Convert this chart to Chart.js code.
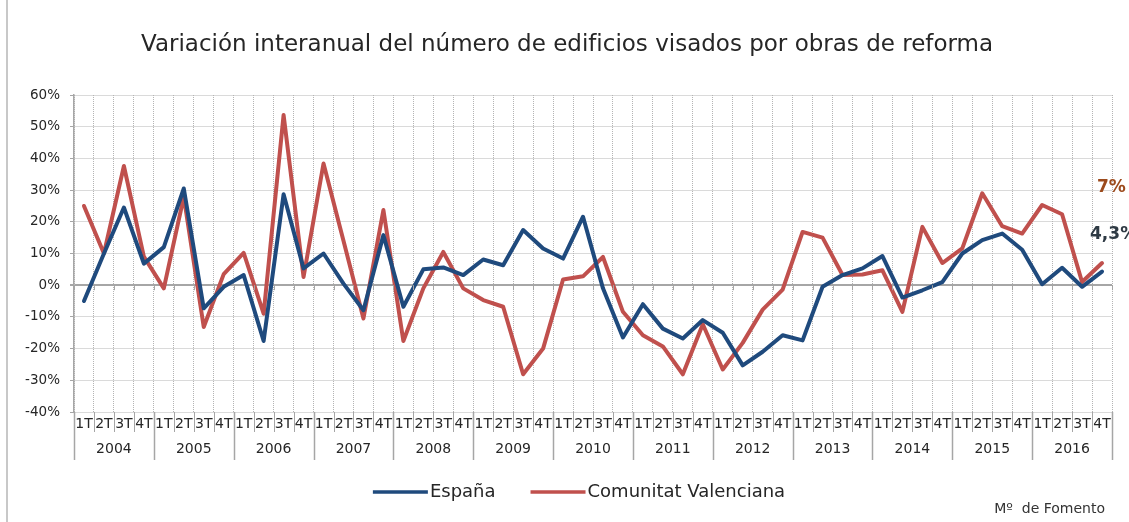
<!DOCTYPE html>
<html lang="es">
<head>
<meta charset="UTF-8">
<title>Variación interanual del número de edificios visados por obras de reforma</title>
<script src="https://cdn.jsdelivr.net/npm/chart.js@4.4.0/dist/chart.umd.min.js"></script>
<style>
  html, body { margin: 0; padding: 0; background: #fff; }
</style>
</head>
<body>
<canvas id="grafico" width="1129" height="522"></canvas>
<script>
// Datos trimestrales (variación interanual, %)
const anios = ['2004', '2005', '2006', '2007', '2008', '2009', '2010', '2011', '2012', '2013', '2014', '2015', '2016'];
const trimestres = ['1T', '2T', '3T', '4T'];

const espana = [
  -5, 10, 24.5, 6.8,
  12, 30.5, -7.3, -0.5,
  3.2, -17.6, 28.7, 5.3,
  10, 0.5, -7.9, 15.8,
  -6.8, 5, 5.6, 3.2,
  8.1, 6.3, 17.4, 11.6,
  8.4, 21.6, -1, -16.5,
  -6, -13.7, -16.8, -11,
  -15, -25.3, -21, -15.8,
  -17.4, -0.5, 3.2, 5.3,
  9.2, -3.9, -1.6, 1,
  10, 14.2, 16.3, 11.2,
  0.3, 5.5, -0.5, 4.3
];

const valenciana = [
  25, 10, 37.6, 9,
  -1, 27.9, -13.2, 3.5,
  10.2, -9, 53.7, 2.6,
  38.4, 14, -10.5, 23.7,
  -17.6, -1, 10.5, -1,
  -4.7, -6.8, -28.1, -20,
  1.8, 2.8, 8.9, -8.4,
  -15.8, -19.3, -28.1, -12.3,
  -26.6, -18.2, -7.7, -1.4,
  16.8, 15, 3.2, 3.4,
  4.7, -8.4, 18.4, 7,
  11.6, 29, 18.6, 16.3,
  25.3, 22.4, 1, 7
];

const etiquetas = [];
anios.forEach(a => trimestres.forEach(t => etiquetas.push(t)));

const FUENTE = "'DejaVu Sans', sans-serif";
Chart.defaults.font.family = FUENTE;
Chart.defaults.color = '#333';

const gris = '#A6A6A6';
const grisPunteado = '#B4B4B4';

// ejes de categorías a dos niveles, leyenda, fuente y etiquetas finales
const extras = {
  id: 'extras',
  afterDraw(chart) {
    const ctx = chart.ctx;
    const xs = chart.scales.x;
    const ys = chart.scales.y;
    const area = chart.chartArea;
    const medio = (xs.getPixelForValue(1) - xs.getPixelForValue(0)) / 2;
    const y0 = ys.getPixelForValue(0);

    ctx.save();
    // borde izquierdo del gráfico
    ctx.strokeStyle = '#C8C8C8';
    ctx.lineWidth = 2;
    ctx.beginPath();
    ctx.moveTo(7, 0);
    ctx.lineTo(7, chart.height);
    ctx.stroke();

    ctx.strokeStyle = gris;
    for (let i = 0; i <= etiquetas.length; i++) {
      const x = Math.round(xs.getPixelForValue(i) - medio) + 0.5;
      const largo = i % 4 === 0 ? 48 : 20;
      ctx.lineWidth = i % 4 === 0 ? 1.5 : 1;
      ctx.beginPath();
      ctx.moveTo(x, area.bottom);
      ctx.lineTo(x, area.bottom + largo);
      ctx.stroke();
      // marcas sobre la línea del cero
      ctx.lineWidth = 1;
      ctx.beginPath();
      ctx.moveTo(x, y0);
      ctx.lineTo(x, y0 + 5);
      ctx.stroke();
    }

    // años
    ctx.fillStyle = '#262626';
    ctx.font = '14px ' + FUENTE;
    ctx.textAlign = 'center';
    ctx.textBaseline = 'middle';
    anios.forEach((a, k) => {
      const xc = (xs.getPixelForValue(k * 4) + xs.getPixelForValue(k * 4 + 3)) / 2;
      ctx.fillText(a, xc, area.bottom + 37);
    });

    // leyenda
    ctx.font = '18px ' + FUENTE;
    ctx.textAlign = 'left';
    const linea = 55, hueco = 2, sep = 35;
    const items = chart.data.datasets.map(d => ({ d, w: ctx.measureText(d.label).width }));
    const total = items.reduce((s, it) => s + linea + hueco + it.w, 0) + sep * (items.length - 1);
    let x = 579 - total / 2;
    const yl = 492;
    items.forEach(it => {
      ctx.strokeStyle = it.d.borderColor;
      ctx.lineWidth = 3.5;
      ctx.beginPath();
      ctx.moveTo(x, yl);
      ctx.lineTo(x + linea, yl);
      ctx.stroke();
      ctx.fillStyle = '#262626';
      ctx.fillText(it.d.label, x + linea + hueco, yl);
      x += linea + hueco + it.w + sep;
    });

    // fuente
    ctx.font = '14px ' + FUENTE;
    ctx.textAlign = 'right';
    ctx.fillStyle = '#333';
    ctx.fillText('Mº  de Fomento', 1105, 509);

    // etiquetas del último trimestre
    ctx.font = 'bold 17px ' + FUENTE;
    ctx.textAlign = 'left';
    const fmt = v => v.toLocaleString('es-ES') + '%';
    const ultimo = etiquetas.length - 1;
    const pr = chart.getDatasetMeta(1).data[ultimo];
    ctx.fillStyle = '#9C4A1C';
    ctx.fillText(fmt(valenciana[ultimo]), pr.x - 5, pr.y - 75);
    const pb = chart.getDatasetMeta(0).data[ultimo];
    ctx.fillStyle = '#2E3A44';
    ctx.fillText(fmt(espana[ultimo]), pb.x - 12, pb.y - 37);
    ctx.restore();
  }
};

new Chart(document.getElementById('grafico'), {
  type: 'line',
  data: {
    labels: etiquetas,
    datasets: [
      {
        label: 'España',
        data: espana,
        borderColor: '#1F4A7D',
        backgroundColor: '#1F4A7D',
        borderWidth: 4,
        borderJoinStyle: 'round',
        borderCapStyle: 'round',
        pointRadius: 0,
        tension: 0
      },
      {
        label: 'Comunitat Valenciana',
        data: valenciana,
        borderColor: '#C0504D',
        backgroundColor: '#C0504D',
        borderWidth: 4,
        borderJoinStyle: 'round',
        borderCapStyle: 'round',
        pointRadius: 0,
        tension: 0
      }
    ]
  },
  options: {
    responsive: false,
    animation: false,
    devicePixelRatio: 1,
    layout: { padding: { top: 20, right: 17, bottom: 60, left: 22 } },
    plugins: {
      legend: { display: false },
      tooltip: { enabled: false },
      title: {
        display: true,
        text: 'Variación interanual del número de edificios visados por obras de reforma',
        color: '#262626',
        font: { size: 23, weight: 'normal' },
        padding: { top: 11, bottom: 36.4 }
      }
    },
    scales: {
      x: {
        offset: true,
        grid: { offset: true, drawTicks: false, color: grisPunteado, lineWidth: 1 },
        border: { display: false, dash: [1, 1] },
        ticks: { autoSkip: false, maxRotation: 0, padding: 4, color: '#262626', font: { size: 14 } },
        afterFit(scale) { scale.height = 50; }
      },
      y: {
        min: -40,
        max: 60,
        ticks: { stepSize: 10, padding: 10, color: '#262626', font: { size: 13.5 }, callback: v => v + '%' },
        grid: {
          color: c => (c.tick && c.tick.value === 0) ? gris : grisPunteado,
          lineWidth: c => (c.tick && c.tick.value === 0) ? 2 : 1,
          tickLength: 4,
          tickColor: gris
        },
        border: {
          display: true,
          color: gris,
          width: 1.5,
          dash: c => (c.type === 'tick' && c.tick && c.tick.value !== 0) ? [1, 1] : []
        },
        afterFit(scale) { scale.width = 52; }
      }
    }
  },
  plugins: [extras]
});
</script>
</body>
</html>
